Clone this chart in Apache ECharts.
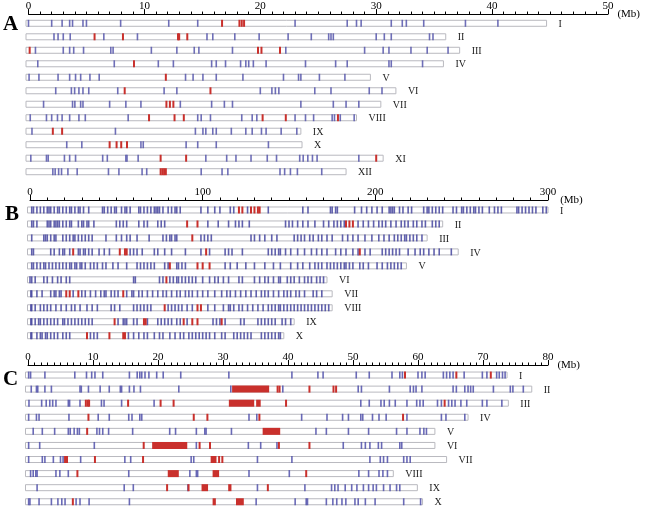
<!DOCTYPE html>
<html><head><meta charset="utf-8">
<script src="https://cdn.jsdelivr.net/npm/echarts@6/dist/echarts.min.js"></script>
<style>html,body{margin:0;padding:0;background:#fff}#c{width:662px;height:510px}</style>
</head><body><div id="c"></div><script>
const romans = ['I','II','III','IV','V','VI','VII','VIII','IX','X','XI','XII'];

// ---- Panel A (Mb) ----
const A_lengths = [44.7, 36.0, 37.2, 35.8, 29.5, 31.7, 30.4, 28.3, 23.5, 23.6, 30.6, 27.4];
const A_blue = [
 [0.0,2.0,2.9,3.55,3.8,4.7,5.0,7.95,12.1,14.6,23.0,27.5,28.3,28.7,31.3,32.25,32.6,34.1,37.7,40.5],
 [2.2,2.55,3.0,3.6,6.5,9.4,15.4,15.9,17.8,19.9,22.4,24.4,25.9,26.1,26.3,30.0,30.7,31.3,34.6,34.9],
 [0.6,3.0,3.55,3.9,4.75,7.1,7.3,10.6,12.8,14.3,14.7,17.6,22.2,29.0,30.6,31.1,33.0,34.4,36.2],
 [0.8,7.4,11.2,12.5,15.8,16.2,17.0,18.3,18.75,19.0,19.4,20.5,23.9,26.5,27.5,31.1,31.3,34.0],
 [0.05,0.9,2.55,3.55,4.06,4.5,5.3,6.1,13.55,14.2,15.05,16.2,18.5,22.0,23.3,23.5,25.1,27.3],
 [2.35,3.7,3.98,4.35,4.7,5.2,7.7,11.7,12.8,20.0,21.0,21.3,21.6,24.7,26.1,29.4,30.5],
 [1.3,3.8,4.0,4.5,4.7,7.0,8.4,9.7,13.1,15.8,16.9,17.6,23.5,26.3,27.4,28.5],
 [0.15,1.55,2.0,2.5,2.9,3.55,4.35,4.9,8.6,14.6,14.9,15.7,18.4,19.3,19.7,23.0,23.9,24.6,26.2,26.4,26.9,28.1],
 [0.3,7.5,14.4,15.05,15.3,15.9,16.2,17.5,18.75,19.3,20.1,20.5,21.8,23.15],
 [3.3,4.6,9.7,9.9,13.6,14.6,16.2,20.7],
 [0.2,1.55,1.7,3.1,3.55,4.06,6.4,6.8,8.4,8.5,9.46,15.3,17.1,17.9,19.2,20.6,21.4,23.4,23.7,24.1,24.5,24.9,28.5],
 [2.1,2.3,2.6,2.85,3.4,4.2,6.9,7.8,9.8,10.2,14.9,16.7,17.2,21.7,22.1,22.6,23.2,25.3]
];
const A_red = [
 [16.7,18.2,18.4,18.6],[5.7,8.15,12.9,13.0,13.7],[0.1,19.8,20.1,21.7],[9.1],[11.85],[8.3,15.7],
 [11.9,12.2,12.5],[10.4,12.6,13.4,20.2,22.2,26.7],[2.1,2.9],[7.0,7.6,8.0,8.5],[11.4,13.6,30.0],[11.4,11.55,11.7,11.85]
];

// ---- Panel B (Mb) ----
const B_lengths = [300, 239, 230, 248, 218, 172, 175, 175, 153, 147];
const B_blue = [
 [1,2,4,6,8,10,11,12,14,16,17,19,21,23,24,26,28,29,31,34,42,43,45,47,49,50,53,55,56,58,63,64,66,68,70,72,73,74,75,77,80,82,84,85,87,99,103,107,110,116,118,126,138,158,161,174,175,177,178,188,192,195,198,201,204,208,209,210,211,214,216,219,221,228,230,231,233,235,237,239,245,247,250,251,253,255,257,258,260,262,266,269,271,273,282,283,285,287,289,291,293,297,299],
 [1,2,4,10,11,12,14,15,16,17,19,21,23,24,28,30,31,33,34,37,50,52,54,56,63,66,68,74,76,78,103,109,115,119,121,123,127,148,150,152,155,158,161,165,170,173,176,178,180,182,190,193,196,199,202,204,206,209,212,215,217,219,222,224,227,229,233,235,237],
 [1,8,9,10,12,14,15,19,21,23,25,26,28,30,32,34,36,44,50,53,56,58,62,69,77,79,81,82,84,85,99,101,103,105,128,130,133,136,140,143,153,155,157,159,162,164,167,169,172,175,181,184,187,190,194,198,202,205,208,211,213,215,217,218,220,222,224,227],
 [1,2,12,14,17,19,20,23,28,29,31,32,34,36,40,43,46,58,60,62,65,72,74,78,82,90,99,104,113,115,117,123,138,140,142,144,145,148,151,155,159,163,166,169,172,177,180,183,187,190,194,197,204,206,208,210,212,214,219,223,226,228,231,234,237,244],
 [1,2,4,6,8,9,11,13,15,17,19,21,23,24,26,27,29,30,32,35,37,39,42,44,48,51,56,62,64,66,68,70,72,78,80,85,86,88,90,113,116,120,125,130,136,141,145,151,155,158,162,165,167,169,172,174,176,178,180,182,183,185,187,191,193,196,201,204,207,209,211,213,215],
 [0,1,3,8,10,13,16,18,21,23,60,61,75,77,81,83,85,86,88,90,92,94,96,100,104,107,109,112,115,121,123,130,133,136,138,141,144,145,149,151,153,156,159,161,163,166,168,170],
 [0.5,1,4,7,12,14,15,17,18,25,30,32,35,38,41,43,44,47,49,51,56,59,60,63,65,68,71,74,77,79,82,85,87,90,92,94,97,100,103,107,111,114,116,119,122,125,128,131,134,136,138,141,144,147,149,151,154,156,159,164,166,169],
 [0.5,1,3,6,8,10,12,15,18,21,24,26,29,33,36,39,47,49,52,60,62,64,66,68,70,80,82,84,86,88,91,94,103,107,112,115,116,118,121,123,126,129,132,135,138,140,142,144,145,147,149,151,153,155,157,159,161,163,165,167,169,171,173],
 [0.5,1,3,5,6,8,10,12,14,16,19,20,22,24,26,28,30,32,34,36,51,54,55,56,60,62,68,74,76,78,80,82,85,87,91,106,108,110,113,122,124,132,134,136,138,140,142,146,148,151],
 [0.5,1,4,6,7,9,10,12,14,16,19,21,23,35,37,39,57,60,63,66,68,72,75,77,81,84,87,89,92,94,96,98,100,102,104,107,111,113,118,120,122,124,126,128,134,136,138,140,142,144,145]
];
const B_red = [
 [121,123,128,130,132,133],[91,97,183,185,187],[94],[25,52,55,56,102,191],[81,97,100,104],
 [79],[21,23,28,54],[78,97,99],[49,66,67,89,94,97,111],[33,46,54,55]
];

// ---- Panel C (Mb) ----
const C_lengths = [73.7, 77.5, 73.9, 67.7, 62.6, 62.6, 64.4, 56.2, 59.9, 60.7];
const C_blue = [
 [0.1,0.4,2.6,7.2,9.0,9.8,10.3,11.5,15.6,16.8,17.2,17.5,18.0,18.6,19.8,20.8,23.5,30.9,40.6,44.6,45.4,50.5,52.5,56.0,57.2,57.6,60.0,60.6,61.1,63.9,64.4,64.9,65.4,67.1,69.9,70.6,72.1,72.5,73.0,73.4],
 [0.5,1.3,1.5,2.6,3.6,8.0,8.2,9.3,11.1,12.5,14.2,14.4,15.6,16.3,17.3,23.2,31.2,39.2,50.8,51.3,55.6,58.8,59.3,59.7,60.6,65.4,65.9,67.2,67.7,68.1,68.5,71.6,74.2,74.6,76.2],
 [0.15,2.1,2.8,3.35,3.8,4.3,6.2,6.4,8.0,11.3,11.7,14.4,19.4,51.2,52.5,54.3,54.8,55.6,56.5,58.3,59.8,60.3,60.8,63.0,63.6,64.7,65.2,65.7,66.6,67.5,69.9,70.6,72.9],
 [0.1,1.3,1.7,6.3,10.8,12.5,15.5,16.0,17.2,17.5,34.0,35.2,42.1,46.0,48.4,49.3,51.2,51.5,53.0,54.0,55.1,58.3,63.6,64.3,67.2],
 [0.8,2.2,4.1,6.2,6.5,7.1,7.6,7.9,10.6,11.0,11.5,12.4,16.1,21.8,22.7,25.9,27.2,27.4,31.3,44.3,45.9,49.3,52.4,56.7,58.3,60.3,60.9,61.3],
 [0.1,1.8,10.2,25.9,33.9,35.8,38.3,48.5,51.3,51.9,52.6,53.9,54.4,57.2,57.5],
 [0.1,2.2,2.6,3.9,5.0,5.4,8.1,14.9,15.8,25.1,25.5,35.3,40.6,52.6,54.2,54.7,55.3,57.8,58.3,58.8],
 [0.4,0.8,1.2,1.4,4.3,4.9,6.2,15.5,24.9,25.9,26.1,34.0,40.2,50.9,52.4,54.0,54.6,55.3],
 [1.4,14.8,16.2,24.6,35.3,42.6,46.7,47.2,47.7,48.8,49.8,50.6,51.6,52.4,53.1,53.6,54.7,55.7,56.7,57.2],
 [0.1,0.3,1.7,3.6,4.6,5.2,5.7,7.4,8.0,9.4,15.6,35.1,41.1,42.8,43.0,45.9,46.9,47.5,48.3,48.9,50.3,50.8,51.9,53.4,57.8,60.4]
];
const C_red = [
 [58.0,65.9,71.2],[38.4,38.7,43.3,47.0,47.4],[8.9,9.2,9.4,15.4,20.4,22.4,39.7,64.1],[9.3,25.5,27.6,35.6,57.7],[9.1],
 [17.8,26.4,28.0,38.6,43.3],[5.7,6.0,10.3,17.7,29.4,29.9],[7.6,42.8],[21.4,24.7,36.9],[6.9]
];
const C_redBlocks = [
 [],[[31.4,37.1]],[[30.9,34.8],[35.1,35.8]],[],[[36.1,38.8]],
 [[19.1,24.5]],[[28.1,29.0]],[[21.5,23.2],[28.4,29.4]],[[26.7,27.7],[30.8,31.3]],[[28.4,28.9],[32.0,33.2]]
];

function buildMarkers(blue, red, blocks) {
  const out = [];
  blue.forEach((arr, i) => arr.forEach(p => out.push([i, p, p, 0])));
  red.forEach((arr, i) => arr.forEach(p => out.push([i, p, p, 1])));
  if (blocks) blocks.forEach((arr, i) => arr.forEach(b => out.push([i, b[0], b[1], 2])));
  return out;
}
const SERIF = '"Liberation Serif", "DejaVu Serif", serif';

function chrRender(params, api) {
  const row = api.value(0), len = api.value(1);
  const p0 = api.coord([0, row]), p1 = api.coord([len, row]);
  return { type: 'group', children: [
    { type: 'rect', shape: { x: p0[0] - 2.5, y: p0[1] - 3, width: p1[0] - p0[0] + 2.5, height: 6 },
      style: { fill: '#fff', stroke: '#b9b9bf', lineWidth: 1 } },
    { type: 'text', x: p1[0] + 12, y: p0[1] + 1,
      style: { text: romans[row], fill: '#222', font: '10px ' + SERIF, verticalAlign: 'middle', align: 'left' } }
  ]};
}
function markerRender(blueColor) {
  return function (params, api) {
    const row = api.value(0), s = api.value(1), e = api.value(2), k = api.value(3);
    const p0 = api.coord([s, row]), p1 = api.coord([e, row]);
    let x = p0[0], w = p1[0] - p0[0];
    const minW = k === 0 ? 1.6 : 2;
    if (w < minW) { x = p0[0] - minW / 2; w = minW; }
    return { type: 'rect', shape: { x: x, y: p0[1] - 3.5, width: w, height: 7 },
      style: { fill: k === 0 ? blueColor : '#c9302c', opacity: k === 0 ? 0.85 : 1 } };
  };
}
function xAx(gi, max, interval, offset) {
  return { type: 'value', gridIndex: gi, position: 'top', min: 0, max: max, interval: interval, offset: offset,
    axisLine: { show: true, lineStyle: { color: '#000', width: 1 } },
    axisTick: { show: true, length: 5, lineStyle: { color: '#000' } },
    minorTick: { show: true, splitNumber: 10, length: 2.5, lineStyle: { color: '#000' } },
    splitLine: { show: false }, minorSplitLine: { show: false },
    axisLabel: { margin: 2, color: '#000', fontFamily: SERIF, fontSize: 11 },
    name: '(Mb)', nameLocation: 'end', nameGap: 6,
    nameTextStyle: { color: '#000', fontFamily: SERIF, fontSize: 11, verticalAlign: 'middle' } };
}
function yAx(gi, n) {
  return { type: 'category', gridIndex: gi, data: romans.slice(0, n), inverse: true, show: false };
}
const panels = [
  { len: A_lengths, mk: buildMarkers(A_blue, A_red), color: '#5656ab' },
  { len: B_lengths, mk: buildMarkers(B_blue, B_red), color: '#45459f' },
  { len: C_lengths, mk: buildMarkers(C_blue, C_red, C_redBlocks), color: '#5050aa' }
];
const series = [];
panels.forEach((p, i) => {
  series.push({ type: 'custom', xAxisIndex: i, yAxisIndex: i, clip: false, renderItem: chrRender,
    encode: { x: 1, y: 0 }, data: p.len.map((l, r) => [r, l]), silent: true });
  series.push({ type: 'custom', xAxisIndex: i, yAxisIndex: i, clip: false, renderItem: markerRender(p.color),
    encode: { x: [1, 2], y: 0 }, data: p.mk, silent: true });
});
const chart = echarts.init(document.getElementById('c'), null, { renderer: 'canvas' });
chart.setOption({
  animation: false,
  backgroundColor: '#fff',
  grid: [
    { left: 28.5, width: 579.5, top: 16.55, height: 161.9, outerBoundsMode: 'none' },
    { left: 30, width: 518, top: 203, height: 139.7, outerBoundsMode: 'none' },
    { left: 28, width: 520, top: 368, height: 140.8, outerBoundsMode: 'none' }
  ],
  xAxis: [ xAx(0, 50, 10, 2.5), xAx(1, 300, 100, 3), xAx(2, 80, 10, 3) ],
  yAxis: [ yAx(0, 12), yAx(1, 10), yAx(2, 10) ],
  graphic: [
    { type: 'text', left: 3, top: 14, style: { text: 'A', font: 'bold 21px ' + SERIF, fill: '#000' } },
    { type: 'text', left: 5, top: 204, style: { text: 'B', font: 'bold 21px ' + SERIF, fill: '#000' } },
    { type: 'text', left: 3, top: 369, style: { text: 'C', font: 'bold 21px ' + SERIF, fill: '#000' } }
  ],
  series: series
});
</script></body></html>
